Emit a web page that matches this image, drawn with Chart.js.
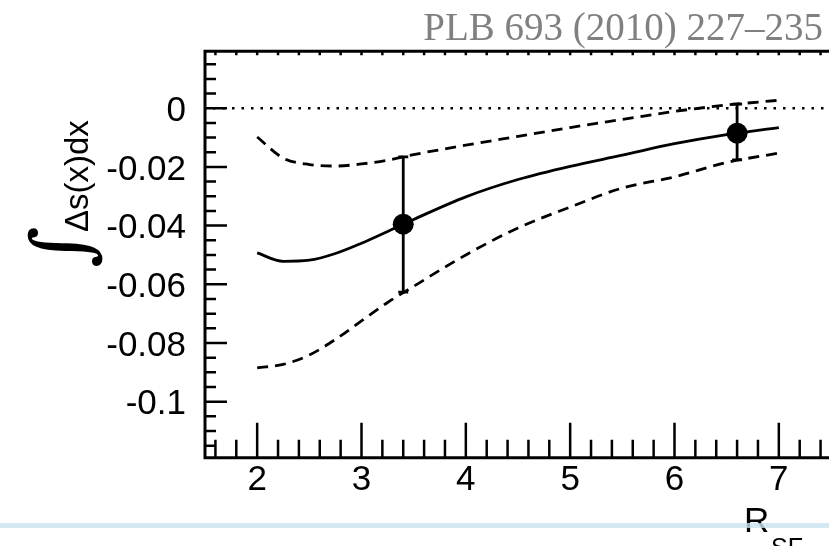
<!DOCTYPE html>
<html><head><meta charset="utf-8">
<script src="https://cdn.jsdelivr.net/npm/chart.js@4/dist/chart.umd.min.js"></script>
<style>
html,body{margin:0;padding:0;background:#fff;overflow:hidden;width:829px;height:546px}
#wrap{position:absolute;left:0;top:0;width:860px;height:546px}
</style>
</head><body><div id="wrap"><canvas id="c" width="860" height="546"></canvas></div>
<script>
// ---- data ----
const titleText = 'PLB 693 (2010) 227–235';
const xAxisTitle = 'R';
const xAxisSub = 'SF';
const yAxisTitle = 'Δs(x)dx';
const integralSign = '∫';
const rsfGrid   = [2.0, 2.25, 2.5, 2.75, 3.0, 3.25, 3.5, 4.0, 4.5, 5.0, 5.5, 6.0, 6.5, 7.0];
const central   = [-0.0493, -0.0522, -0.0518, -0.0495, -0.0460, -0.0420, -0.0379, -0.0302, -0.0243, -0.0198, -0.0160, -0.0121, -0.0090, -0.0066];
const upperBand = [-0.0098, -0.0170, -0.0192, -0.0197, -0.0190, -0.0177, -0.0158, -0.0126, -0.0096, -0.0066, -0.0038, -0.0011, 0.0011, 0.0027];
const lowerBand = [-0.0885, -0.0873, -0.0841, -0.0788, -0.0725, -0.0662, -0.0607, -0.0500, -0.0408, -0.0337, -0.0272, -0.0234, -0.0185, -0.0153];
const pointR    = [3.4, 6.6];
const pointVal  = [-0.0395, -0.0085];
const pointHigh = [-0.0166, 0.0014];
const pointLow  = [-0.0627, -0.0176];
const xTickValues = [2, 3, 4, 5, 6, 7];
const yTickValues = [0, -0.02, -0.04, -0.06, -0.08, -0.1];
const yTickLabels = ['0', '-0.02', '-0.04', '-0.06', '-0.08', '-0.1'];

const SANS = '"Liberation Sans", Arial, Helvetica, sans-serif';
const toXY = (xs, ys) => xs.map((x, i) => ({x: x, y: ys[i]}));

const decor = {
  id: 'decor',
  beforeDatasetsDraw(chart) {
    const {ctx, chartArea: a, scales: {y}} = chart;
    const y0 = y.getPixelForValue(0);
    ctx.save();
    ctx.strokeStyle = '#000'; ctx.lineWidth = 2.5; ctx.setLineDash([2.5, 7]);
    ctx.beginPath(); ctx.moveTo(a.left + 8, y0); ctx.lineTo(a.right, y0); ctx.stroke();
    ctx.restore();
  },
  afterDatasetsDraw(chart) {
    const {ctx, scales: {x, y}} = chart;
    ctx.save();
    ctx.strokeStyle = '#000'; ctx.lineWidth = 2.8;
    for (let i = 0; i < pointR.length; i++) {
      const px = x.getPixelForValue(pointR[i]);
      const yh = y.getPixelForValue(pointHigh[i]);
      const yl = y.getPixelForValue(pointLow[i]);
      ctx.beginPath();
      ctx.moveTo(px, yh); ctx.lineTo(px, yl);
      ctx.moveTo(px - 5, yh); ctx.lineTo(px + 5, yh);
      ctx.moveTo(px - 5, yl); ctx.lineTo(px + 5, yl);
      ctx.stroke();
    }
    ctx.restore();
  },
  afterDraw(chart) {
    const {ctx, chartArea: a, scales: {x, y}} = chart;
    ctx.save();
    ctx.strokeStyle = '#000'; ctx.lineCap = 'butt';
    // frame
    ctx.lineWidth = 3;
    ctx.beginPath();
    ctx.moveTo(a.left, a.top); ctx.lineTo(a.left, a.bottom);
    ctx.moveTo(a.left - 1.5, a.bottom); ctx.lineTo(a.right + 2, a.bottom);
    ctx.moveTo(a.left - 1.5, a.top); ctx.lineTo(a.right + 2, a.top);
    ctx.stroke();
    // y ticks
    ctx.lineWidth = 2.5;
    ctx.beginPath();
    for (let k = -23; k <= 3; k++) {
      const v = k * 0.005;
      const py = y.getPixelForValue(v);
      const len = (k % 4 === 0) ? 22 : 11;
      ctx.moveTo(a.left, py); ctx.lineTo(a.left + len, py);
    }
    // x ticks (bottom & top)
    for (let k = 8; k <= 37; k++) {
      const v = k * 0.2;
      const px = x.getPixelForValue(v);
      const len = (k % 5 === 0) ? 35 : 18;
      ctx.moveTo(px, a.bottom); ctx.lineTo(px, a.bottom - len);
      ctx.moveTo(px, a.top); ctx.lineTo(px, a.top + 4);
    }
    ctx.stroke();

    // y title (rotated)
    ctx.fillStyle = '#000';
    ctx.save();
    ctx.translate(88, 268);
    ctx.rotate(-Math.PI / 2);
    ctx.textBaseline = 'alphabetic'; ctx.textAlign = 'left';
    ctx.font = '80px "DejaVu Serif", serif';
    ctx.fillText(integralSign, 0, 0);
    ctx.font = '33px ' + SANS;
    ctx.fillText(yAxisTitle, 36, 0);
    ctx.restore();

    // x title
    ctx.textAlign = 'left'; ctx.textBaseline = 'alphabetic';
    ctx.font = '35px ' + SANS;
    ctx.fillText(xAxisTitle, 744, 532);
    ctx.font = '25px ' + SANS;
    ctx.fillText(xAxisSub, 771, 556);

    // page reference
    ctx.fillStyle = '#808080';
    ctx.font = '39px "Liberation Serif", "Times New Roman", serif';
    ctx.textAlign = 'right';
    ctx.fillText(titleText, 823, 40);

    // light blue rule
    ctx.fillStyle = 'rgba(200,228,238,0.8)';
    ctx.fillRect(0, 523, 860, 5);
    ctx.restore();
  }
};

new Chart(document.getElementById('c'), {
  type: 'scatter',
  data: {
    datasets: [
      {data: toXY(rsfGrid, central), showLine: true, borderColor: '#000', borderWidth: 2.8, pointRadius: 0, cubicInterpolationMode: 'monotone'},
      {data: toXY(rsfGrid, upperBand), showLine: true, borderColor: '#000', borderWidth: 2.8, borderDash: [11, 7], pointRadius: 0, cubicInterpolationMode: 'monotone'},
      {data: toXY(rsfGrid, lowerBand), showLine: true, borderColor: '#000', borderWidth: 2.8, borderDash: [11, 7], pointRadius: 0, cubicInterpolationMode: 'monotone'},
      {data: toXY(pointR, pointVal), showLine: false, pointRadius: 10.5, pointBackgroundColor: '#000', pointBorderColor: '#000', pointBorderWidth: 0}
    ]
  },
  options: {
    responsive: false,
    animation: false,
    devicePixelRatio: 1,
    layout: {padding: {left: 0, top: 51.3, right: 29, bottom: 0}},
    plugins: {legend: {display: false}, tooltip: {enabled: false}, title: {display: false}},
    scales: {
      x: {
        type: 'linear', min: 1.5, max: 7.5,
        grid: {display: false, drawTicks: false}, border: {display: false},
        afterBuildTicks: s => { s.ticks = xTickValues.map(v => ({value: v})); },
        afterFit: s => { s.height = 88.3; },
        ticks: {color: '#000', font: {family: SANS, size: 35}, padding: 2, maxRotation: 0,
                callback: v => String(v)}
      },
      y: {
        type: 'linear', min: -0.1191, max: 0.0194,
        grid: {display: false, drawTicks: false}, border: {display: false},
        afterBuildTicks: s => { s.ticks = yTickValues.map(v => ({value: v})); },
        afterFit: s => { s.width = 205; },
        ticks: {color: '#000', font: {family: SANS, size: 35}, padding: 19, labelOffset: 3,
                callback: (v) => { const i = yTickValues.findIndex(t => Math.abs(t - v) < 1e-9); return i >= 0 ? yTickLabels[i] : ''; }}
      }
    }
  },
  plugins: [decor]
});
</script>
</body></html>
